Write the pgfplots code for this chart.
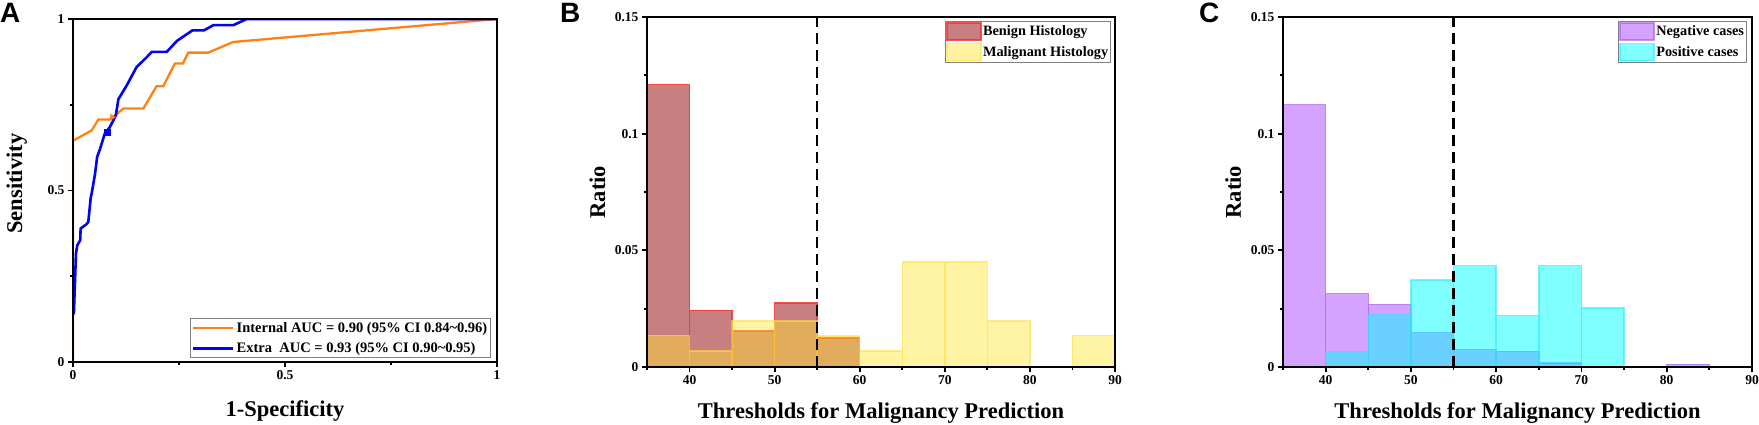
\documentclass[border=0pt]{standalone}
\usepackage{fontspec}
\setmainfont{Liberation Serif}
\newfontfamily\panelfont{Liberation Sans}
\usepackage{pgfplots}
\pgfplotsset{compat=1.18}
\definecolor{roco}{RGB}{255,128,20}
\definecolor{rocb}{RGB}{0,0,255}
\definecolor{benfill}{RGB}{145,0,0}
\definecolor{benedge}{RGB}{255,40,40}
\definecolor{malfill}{RGB}{255,230,50}
\definecolor{maledge}{RGB}{255,225,60}
\definecolor{negfill}{RGB}{170,70,255}
\definecolor{negedge}{RGB}{160,80,240}
\definecolor{posfill}{RGB}{0,255,255}
\definecolor{posedge}{RGB}{40,235,250}
\pgfplotsset{
  barlegend/.style={legend image code/.code={\draw[##1] (0pt,-8.5pt) rectangle (34pt,8.5pt);}},
  linelegend/.style={legend image code/.code={\draw[##1] (0pt,0pt) -- (40pt,0pt);}},
  common/.style={
    scale only axis,
    axis on top,
    tick align=outside,
    xtick pos=bottom, ytick pos=left,
    axis line style={line width=2.4pt, black},
    tick style={line width=1.8pt, black},
    major tick length=5pt, minor tick length=3pt,
    /pgf/number format/assume math mode=true,
    tick label style={font=\fontsize{13.5}{16}\selectfont\bfseries},
    label style={font=\fontsize{22.5}{27}\selectfont\bfseries},
    scaled x ticks=false, scaled y ticks=false,
    legend cell align=left,
  },
}
\begin{document}
\begin{tikzpicture}[x=1pt,y=1pt]
\path[use as bounding box] (0,0) rectangle (1759,424);
\node[anchor=base west, inner sep=0] at (0,401) {\panelfont\fontsize{28}{32}\selectfont\bfseries A};
\node[anchor=base west, inner sep=0] at (560,401) {\panelfont\fontsize{28}{32}\selectfont\bfseries B};
\node[anchor=base west, inner sep=0] at (1199,401) {\panelfont\fontsize{28}{32}\selectfont\bfseries C};

% Panel A
\begin{axis}[common,
  at={(73pt,62pt)}, anchor=south west, width=424pt, height=343pt,
  xmin=0, xmax=1, ymin=0, ymax=1,
  xtick={0,0.5,1}, xticklabels={0,0.5,1}, minor xtick={0.25,0.75},
  ytick={0,0.5,1}, yticklabels={0,0.5,1}, minor ytick={0.25,0.75},
  xlabel={1-Specificity}, ylabel={Sensitivity},
  xlabel style={at={(axis description cs:0.5,-0.160)}, anchor=base},
  ylabel style={at={(axis description cs:-0.120,0.52)}, anchor=base},
  legend style={at={(0.986,0.012)}, anchor=south east, draw=gray, line width=0.6pt,
    font=\fontsize{14.5}{17}\selectfont\bfseries, inner sep=1.5pt, row sep=5pt,
    nodes={inner sep=2pt}},
]
\addplot[roco, line width=2.3pt, linelegend] coordinates {
(0,0) (0,0.645) (0.044,0.675) (0.060,0.707) (0.087,0.707) (0.099,0.719) (0.119,0.739)
(0.166,0.739) (0.197,0.804) (0.213,0.804) (0.240,0.870) (0.259,0.870) (0.272,0.902)
(0.319,0.902) (0.378,0.933) (1,1)};
\addlegendentry{Internal AUC = 0.90 (95\% CI 0.84\textasciitilde 0.96)}
\addplot[rocb, line width=2.6pt, linelegend] coordinates {
(0.002,0.139) (0.007,0.316) (0.010,0.340) (0.017,0.355) (0.018,0.389) (0.031,0.401)
(0.036,0.408) (0.042,0.481) (0.044,0.491) (0.052,0.549) (0.057,0.598) (0.064,0.622)
(0.075,0.666) (0.087,0.685) (0.101,0.719) (0.107,0.766) (0.127,0.807) (0.150,0.860)
(0.166,0.879) (0.186,0.904) (0.221,0.904) (0.245,0.936) (0.264,0.952) (0.282,0.967)
(0.309,0.967) (0.331,0.982) (0.378,0.982) (0.410,1.0) (1,1)};
\addlegendentry{Extra\ \ AUC = 0.93 (95\% CI 0.90\textasciitilde 0.95)}
\addplot[forget plot, only marks, mark=triangle*, mark size=3.5pt, mark options={rotate=-90, fill=roco, draw=roco}] coordinates {(0.092,0.714)};
\addplot[forget plot, only marks, mark=square*, mark size=3pt, mark options={fill=rocb, draw=rocb}] coordinates {(0.080,0.671)};
\end{axis}

% Panel B
\begin{axis}[common,
  at={(647pt,57pt)}, anchor=south west, width=468pt, height=350pt,
  xmin=35, xmax=90, ymin=0, ymax=0.15,
  xtick={40,50,60,70,80,90}, minor xtick={35,45,55,65,75,85},
  ytick={0,0.05,0.1,0.15}, yticklabels={0,0.05,0.1,0.15}, minor ytick={0.025,0.075,0.125},
  xlabel={Thresholds for Malignancy Prediction}, ylabel={Ratio},
  xlabel style={at={(axis description cs:0.5,-0.146)}, anchor=base},
  ylabel style={at={(axis description cs:-0.0897,0.5)}, anchor=base},
  legend style={at={(0.9915,0.9886)}, anchor=north east, draw=gray, line width=0.6pt,
    font=\fontsize{14.3}{17}\selectfont\bfseries, inner sep=1pt, row sep=2pt,
    nodes={inner sep=1.5pt}},
]
\addplot[ybar interval, fill=benfill, fill opacity=0.5, draw=benedge, draw opacity=0.8, line width=1.5pt, barlegend]
 coordinates {(35,0.121) (40,0.0243) (45,0.0155) (50,0.0275) (55,0.0125) (60,0.0125)};
\addlegendentry{Benign Histology}
\addplot[ybar interval, fill=malfill, fill opacity=0.45, draw=maledge, draw opacity=0.6, line width=1.5pt, barlegend]
 coordinates {(35,0.0136) (40,0.0069) (45,0.0198) (50,0.0198) (55,0.0133) (60,0.0069)
 (65,0.0451) (70,0.0451) (75,0.0198) (80,0) (85,0.0136) (90,0.0136)};
\addlegendentry{Malignant Histology}
\addplot[forget plot, black, line width=2.2pt, dash pattern=on 11pt off 6pt] coordinates {(55,0) (55,0.15)};
\end{axis}

% Panel C
\begin{axis}[common,
  at={(1283pt,57pt)}, anchor=south west, width=469pt, height=350pt,
  xmin=35, xmax=90, ymin=0, ymax=0.15,
  xtick={40,50,60,70,80,90}, minor xtick={35,45,55,65,75,85},
  ytick={0,0.05,0.1,0.15}, yticklabels={0,0.05,0.1,0.15}, minor ytick={0.025,0.075,0.125},
  xlabel={Thresholds for Malignancy Prediction}, ylabel={Ratio},
  xlabel style={at={(axis description cs:0.5,-0.146)}, anchor=base},
  ylabel style={at={(axis description cs:-0.0896,0.5)}, anchor=base},
  legend style={at={(0.989,0.9886)}, anchor=north east, draw=gray, line width=0.6pt,
    font=\fontsize{14.3}{17}\selectfont\bfseries, inner sep=1pt, row sep=2pt,
    nodes={inner sep=1.5pt}},
]
\addplot[ybar interval, fill=negfill, fill opacity=0.5, draw=negedge, draw opacity=0.6, line width=1.5pt, barlegend]
 coordinates {(35,0.1124) (40,0.0315) (45,0.0268) (50,0.0147) (55,0.0074) (60,0.0067)
 (65,0.0017) (70,0) (75,0) (80,0.0011) (85,0.0011)};
\addlegendentry{Negative cases}
\addplot[ybar interval, fill=posfill, fill opacity=0.5, draw=posedge, draw opacity=0.6, line width=1.5pt, barlegend]
 coordinates {(40,0.0067) (45,0.0222) (50,0.0372) (55,0.0434) (60,0.022) (65,0.0434)
 (70,0.0252) (75,0.0252)};
\addlegendentry{Positive cases}
\addplot[forget plot, black, line width=2.2pt, dash pattern=on 11pt off 6pt] coordinates {(55,0) (55,0.15)};
\end{axis}
\end{tikzpicture}
\end{document}
